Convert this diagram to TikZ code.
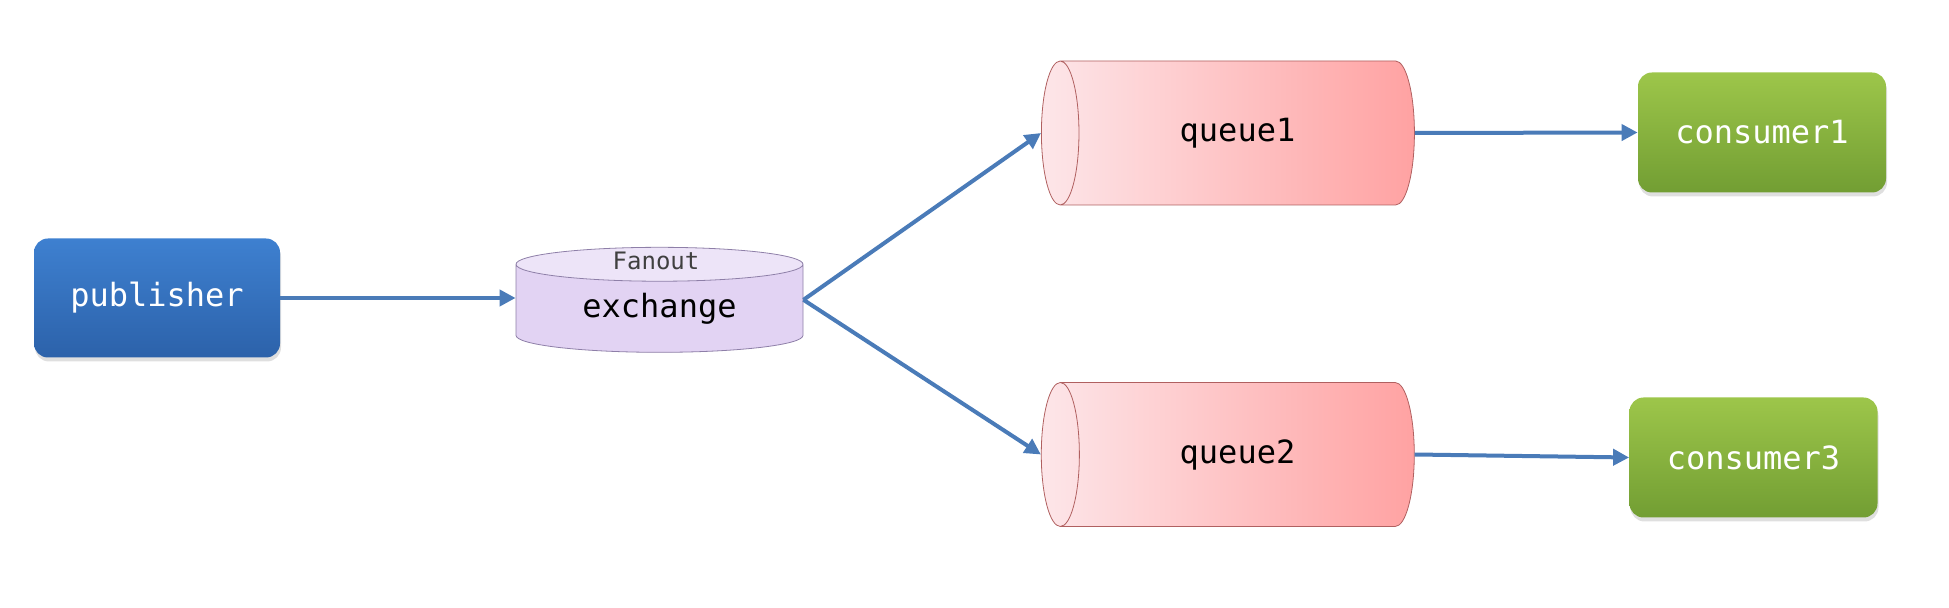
\documentclass[tikz,border=0pt]{standalone}
\usepackage{fontspec}
\setmonofont{DejaVu Sans Mono}
\usepackage{tikz}
\usetikzlibrary{shapes.geometric,arrows.meta,shadows}

\definecolor{pubtop}{HTML}{3E80D0}
\definecolor{pubbot}{HTML}{2C62AA}
\definecolor{contop}{HTML}{9DC64A}
\definecolor{conbot}{HTML}{729E33}
\definecolor{quleft}{HTML}{FDE6E9}
\definecolor{quright}{HTML}{FFA2A2}
\definecolor{quline}{HTML}{B06060}
\definecolor{exbody}{HTML}{E2D3F3}
\definecolor{exend}{HTML}{EDE4F8}
\definecolor{exline}{HTML}{8E7FA8}
\definecolor{flow}{HTML}{4A7BB8}

\begin{document}
\begin{tikzpicture}[x=0.5pt,y=-0.5pt]
\tikzset{
	big text/.style = {font = \ttfamily\fontsize{16}{19}\selectfont},
	box shadow/.style = {drop shadow = {opacity = 0.25, shadow xshift = 0.5pt, shadow yshift = -2pt}},
	blue node/.style = {rectangle, rounded corners = 7pt, big text, text = white,
		minimum width = 123pt, minimum height = 59.5pt,
		top color = pubtop, bottom color = pubbot, box shadow},
	green node/.style = {rectangle, rounded corners = 7pt, big text, text = white,
		minimum width = 124pt, minimum height = 60pt,
		top color = contop, bottom color = conbot, box shadow},
	purple node/.style = {cylinder, shape border rotate = 90, draw = exline, big text,
		cylinder uses custom fill, cylinder body fill = exbody, cylinder end fill = exend,
		minimum width = 143.5pt, minimum height = 52.5pt, aspect = 0.22, inner sep = 0},
	red node/.style = {cylinder, shape border rotate = 180, draw = quline, big text,
		left color = quleft, right color = quright,
		minimum width = 72pt, minimum height = 186.5pt, aspect = 1.25, inner sep = 0},
	flow line/.style = {draw = flow, line width = 2pt, -{Triangle[length = 8pt, width = 8pt]}}
}

\useasboundingbox (0,0) rectangle (1949,608);

\node(publisher)[blue node] at (157,298) {publisher};
\node(exchange)[purple node] at (659.5,308.5) {exchange};
\node(fanout)[font = \ttfamily\fontsize{12}{14}\selectfont, text = darkgray] at (656,261) {Fanout};
\node(queue1)[red node] at (1237.5,133) {queue1};
\node(queue2)[red node] at (1237.5,454.5) {queue2};
\node(consumer1)[green node] at (1762,132.5) {consumer1};
\node(consumer3)[green node] at (1753.5,457.5) {consumer3};

\draw[flow line] (publisher.east) -- (publisher.east -| exchange.west);
\draw[flow line] (exchange.shape center -| exchange.east) -- (queue1.west);
\draw[flow line] (exchange.shape center -| exchange.east) -- (queue2.west);
\draw[flow line] (queue1.east) -- (consumer1.west);
\draw[flow line] (queue2.east) -- (consumer3.west);
\end{tikzpicture}
\end{document}
